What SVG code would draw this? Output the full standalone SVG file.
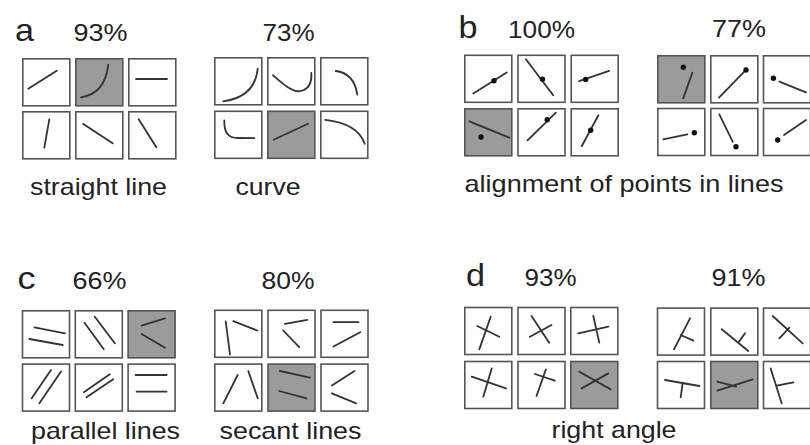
<svg xmlns="http://www.w3.org/2000/svg" width="810" height="445" viewBox="0 0 810 445">
<style>
  .bx{stroke:#555;stroke-width:1.6}
  .ln{fill:none;stroke:#333;stroke-width:1.8;stroke-linecap:round}
  .dt{fill:#111}
  .t{font-family:"Liberation Sans",Arial,sans-serif;font-size:24px;fill:#222}
  .L{font-family:"Liberation Sans",Arial,sans-serif;font-size:32px;fill:#222}
</style>
<defs>
  <rect id="box" class="bx" fill="#fff" x="0.8" y="0.8" width="47" height="47"/>
  <rect id="boxg" class="bx" fill="#9b9b9b" x="0.8" y="0.8" width="47" height="47"/>
</defs>
<rect width="810" height="445" fill="#fff"/>

<!-- labels -->
<g id="labels">
  <text class="L" x="15" y="41" textLength="19" lengthAdjust="spacingAndGlyphs">a</text>
  <text class="t" x="73.5" y="41" textLength="54" lengthAdjust="spacingAndGlyphs">93%</text>
  <text class="t" x="262.5" y="41" textLength="52" lengthAdjust="spacingAndGlyphs">73%</text>
  <text class="t" x="30" y="195" textLength="137" lengthAdjust="spacingAndGlyphs">straight line</text>
  <text class="t" x="235.5" y="195" textLength="65" lengthAdjust="spacingAndGlyphs">curve</text>

  <text class="L" x="458.5" y="38" textLength="19" lengthAdjust="spacingAndGlyphs">b</text>
  <text class="t" x="508" y="38" textLength="67" lengthAdjust="spacingAndGlyphs">100%</text>
  <text class="t" x="712" y="37" textLength="54" lengthAdjust="spacingAndGlyphs">77%</text>
  <text class="t" x="464.5" y="192" textLength="319" lengthAdjust="spacingAndGlyphs">alignment of points in lines</text>

  <text class="L" x="17.5" y="289" textLength="18" lengthAdjust="spacingAndGlyphs">c</text>
  <text class="t" x="72.5" y="289" textLength="54" lengthAdjust="spacingAndGlyphs">66%</text>
  <text class="t" x="261.5" y="289" textLength="53" lengthAdjust="spacingAndGlyphs">80%</text>
  <text class="t" x="31" y="439" textLength="149" lengthAdjust="spacingAndGlyphs">parallel lines</text>
  <text class="t" x="219.5" y="439" textLength="142" lengthAdjust="spacingAndGlyphs">secant lines</text>

  <text class="L" x="466" y="285.5" textLength="19" lengthAdjust="spacingAndGlyphs">d</text>
  <text class="t" x="524.5" y="285.5" textLength="52" lengthAdjust="spacingAndGlyphs">93%</text>
  <text class="t" x="711.5" y="285.5" textLength="54" lengthAdjust="spacingAndGlyphs">91%</text>
  <text class="t" x="551.5" y="438" textLength="125" lengthAdjust="spacingAndGlyphs">right angle</text>
</g>

<!-- panel a: straight line -->
<g id="a1" transform="translate(22,58)">
  <g id="a1-1"><use href="#box"/><path class="ln" d="M6.3,30.7 L34.7,12.7"/></g>
  <g id="a1-2" transform="translate(53,0)"><use href="#boxg"/><path class="ln" d="M6,39.3 Q30,36 33.3,6.7"/></g>
  <g id="a1-3" transform="translate(106,0)"><use href="#box"/><path class="ln" d="M8,21 L39,21"/></g>
  <g id="a1-4" transform="translate(0,53)"><use href="#box"/><path class="ln" d="M27.3,8.3 L22.3,36.7"/></g>
  <g id="a1-5" transform="translate(53,53)"><use href="#box"/><path class="ln" d="M8.3,13 L37.7,32.3"/></g>
  <g id="a1-6" transform="translate(106,53)"><use href="#box"/><path class="ln" d="M10.7,8.3 L28.3,36.3"/></g>
</g>

<!-- panel a: curve -->
<g id="a2" transform="translate(214,57)">
  <g id="a2-1"><use href="#box"/><path class="ln" d="M9.3,44.3 Q41,40 43.7,11.7"/></g>
  <g id="a2-2" transform="translate(53,0)"><use href="#box"/><path class="ln" d="M6,18.3 C16,27 26,36 34,34 C42,32 45,26 44.3,16"/></g>
  <g id="a2-3" transform="translate(106,0)"><use href="#box"/><path class="ln" d="M15.7,14 Q34,16 37.3,37.7"/></g>
  <g id="a2-4" transform="translate(0,53.5)"><use href="#box"/><path class="ln" d="M10.3,10 C10,22 14,27.5 24,27.5 L40.3,27.7"/></g>
  <g id="a2-5" transform="translate(53,53.5)"><use href="#boxg"/><path class="ln" d="M6.7,29.3 L41,13.3"/></g>
  <g id="a2-6" transform="translate(106,53.5)"><use href="#box"/><path class="ln" d="M5.3,9.3 Q38,13 44.7,33.3"/></g>
</g>

<!-- panel b: alignment, 100% -->
<g id="b1" transform="translate(464,54.5)">
  <g id="b1-1"><use href="#box"/><path class="ln" d="M9.3,39 L42.7,18"/><circle class="dt" cx="30" cy="26.3" r="2.7"/></g>
  <g id="b1-2" transform="translate(53.2,0)"><use href="#box"/><path class="ln" d="M8.7,4.7 L36,40.7"/><circle class="dt" cx="25.3" cy="24.7" r="2.7"/></g>
  <g id="b1-3" transform="translate(106.4,0)"><use href="#box"/><path class="ln" d="M8.7,26.7 L38.7,16.3"/><circle class="dt" cx="15.3" cy="25" r="2.7"/></g>
  <g id="b1-4" transform="translate(0,53.5)"><use href="#boxg"/><path class="ln" d="M5.3,13.3 L45.3,29.7"/><circle class="dt" cx="17" cy="29" r="2.7"/></g>
  <g id="b1-5" transform="translate(53.2,53.5)"><use href="#box"/><path class="ln" d="M10.3,32.3 L38.7,4.7"/><circle class="dt" cx="30" cy="11.7" r="2.7"/></g>
  <g id="b1-6" transform="translate(106.4,53.5)"><use href="#box"/><path class="ln" d="M11.3,38.3 L28,7.3"/><circle class="dt" cx="20.3" cy="22.3" r="2.7"/></g>
</g>

<!-- panel b: alignment, 77% -->
<g id="b2" transform="translate(657,55)">
  <g id="b2-1"><use href="#boxg"/><path class="ln" d="M35.3,17.7 L26.3,43.3"/><circle class="dt" cx="26.3" cy="12.3" r="2.7"/></g>
  <g id="b2-2" transform="translate(53,0)"><use href="#box"/><path class="ln" d="M9,42.7 L34.3,16.7"/><circle class="dt" cx="36" cy="15" r="2.7"/></g>
  <g id="b2-3" transform="translate(105.7,0)"><use href="#box"/><path class="ln" d="M16.7,26.7 L43.3,37.3"/><circle class="dt" cx="10.7" cy="23.3" r="2.7"/></g>
  <g id="b2-4" transform="translate(0,52.7)"><use href="#box"/><path class="ln" d="M6.3,31.7 L30.3,26.7"/><circle class="dt" cx="37.3" cy="25" r="2.7"/></g>
  <g id="b2-5" transform="translate(53,52.7)"><use href="#box"/><path class="ln" d="M9.3,6.7 L22.7,34"/><circle class="dt" cx="26" cy="39" r="2.7"/></g>
  <g id="b2-6" transform="translate(105.7,52.7)"><use href="#box"/><path class="ln" d="M21.3,27.3 L43.3,12.3"/><circle class="dt" cx="15" cy="32.3" r="2.7"/></g>
</g>

<!-- panel c: parallel lines -->
<g id="c1" transform="translate(21.7,310)">
  <g id="c1-1"><use href="#box"/><path class="ln" d="M12.7,17.3 L43.3,23.3 M7.7,29 L41,35"/></g>
  <g id="c1-2" transform="translate(52.8,0)"><use href="#box"/><path class="ln" d="M10,12.7 L29.3,39.3 M20.3,6.7 L40.3,33.3"/></g>
  <g id="c1-3" transform="translate(105.6,0)"><use href="#boxg"/><path class="ln" d="M14.3,15.7 L37.7,8.3 M14.3,24 L37.7,37.7"/></g>
  <g id="c1-4" transform="translate(0,53.3)"><use href="#box"/><path class="ln" d="M10,35 L29.3,6.7 M17.7,40 L39.3,8.3"/></g>
  <g id="c1-5" transform="translate(52.8,53.3)"><use href="#box"/><path class="ln" d="M9.3,29 L35.3,11 M12,34 L38.7,16"/></g>
  <g id="c1-6" transform="translate(105.6,53.3)"><use href="#box"/><path class="ln" d="M8.3,11.7 L39.3,11.7 M9.3,28.3 L39.3,28.3"/></g>
</g>

<!-- panel c: secant lines -->
<g id="c2" transform="translate(214,309.5)">
  <g id="c2-1"><use href="#box"/><path class="ln" d="M11.7,12 L16,45 M19.3,11.7 L43.3,21"/></g>
  <g id="c2-2" transform="translate(53.2,0)"><use href="#box"/><path class="ln" d="M17.7,14.3 L40,10.3 M16,21 L32,37.7"/></g>
  <g id="c2-3" transform="translate(106.2,0)"><use href="#box"/><path class="ln" d="M13.3,12.7 L38.3,12.7 M13.3,37 L40,22.7"/></g>
  <g id="c2-4" transform="translate(0,53.8)"><use href="#box"/><path class="ln" d="M9.3,40 L23.7,11.7 M34.3,7.7 L43.7,35"/></g>
  <g id="c2-5" transform="translate(53.2,53.8)"><use href="#boxg"/><path class="ln" d="M12.7,7.7 L42.7,14.3 M12,27.7 L39.3,35"/></g>
  <g id="c2-6" transform="translate(106.2,53.8)"><use href="#box"/><path class="ln" d="M11.7,22.3 L34.3,7.7 M11.7,30 L36,40"/></g>
</g>

<!-- panel d: right angle, 93% -->
<g id="d1" transform="translate(464,306.7)">
  <g id="d1-1"><use href="#box"/><path class="ln" d="M15.3,42.7 L26.7,10 M13.3,19.3 L35.3,30"/></g>
  <g id="d1-2" transform="translate(53.2,0)"><use href="#box"/><path class="ln" d="M14.3,9.3 L32,36 M12.7,30 L34.3,18.3"/></g>
  <g id="d1-3" transform="translate(106,0)"><use href="#box"/><path class="ln" d="M23.3,9.3 L29.3,36 M8.3,26.7 L38.3,20"/></g>
  <g id="d1-4" transform="translate(0,54)"><use href="#box"/><path class="ln" d="M7.7,16 L42,27.7 M19.3,36 L27.7,7.7"/></g>
  <g id="d1-5" transform="translate(53.2,54)"><use href="#box"/><path class="ln" d="M19.3,35.3 L28.7,8.7 M17.7,13.3 L37.7,20"/></g>
  <g id="d1-6" transform="translate(106,54)"><use href="#boxg"/><path class="ln" d="M9.3,11 L40.7,28.7 M11.7,27.7 L38.3,12.7"/></g>
</g>

<!-- panel d: right angle, 91% -->
<g id="d2" transform="translate(656.7,307.3)">
  <g id="d2-1"><use href="#box"/><path class="ln" d="M17.3,42 L33.3,11 M24,27.7 L36.7,33.3"/></g>
  <g id="d2-2" transform="translate(53.3,0)"><use href="#box"/><path class="ln" d="M11.7,22 L38.3,43.7 M28.3,35.3 L35,26"/></g>
  <g id="d2-3" transform="translate(106,0)"><use href="#box"/><path class="ln" d="M10,8.7 L40,36 M16.7,31 L26.7,20.3"/></g>
  <g id="d2-4" transform="translate(0,53.4)"><use href="#box"/><path class="ln" d="M8.3,19.3 L42.7,25.3 M26,22 L24,36.7"/></g>
  <g id="d2-5" transform="translate(53.3,53.4)"><use href="#boxg"/><path class="ln" d="M7.3,30 L42.7,18.7 M7.3,21 L26,26"/></g>
  <g id="d2-6" transform="translate(106,53.4)"><use href="#box"/><path class="ln" d="M8,7.7 L19,42.7 M14,25 L30.7,21.7"/></g>
</g>
</svg>
